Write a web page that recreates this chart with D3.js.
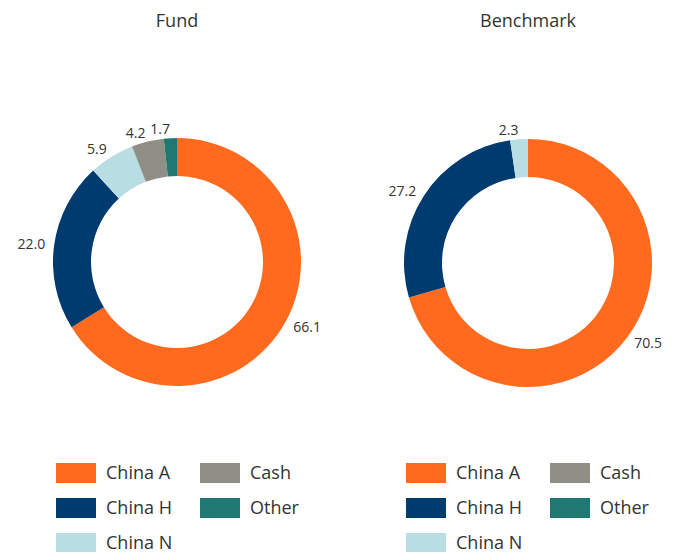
<!DOCTYPE html>
<html><head><meta charset="utf-8">
<script src="https://cdn.jsdelivr.net/npm/d3@7"></script>
<style>body{margin:0;background:#fff}svg{display:block}text{font-family:"Open Sans",sans-serif;fill:#333}</style>
</head><body>
<svg id="c" width="682" height="552"></svg>
<script>
const categories = ["China A","China H","China N","Cash","Other"];
const fundValues = [66.1,22.0,5.9,4.2,1.7];
const benchmarkValues = [70.5,27.2,2.3,0,0];
const titles = ["Fund","Benchmark"];
const colors = ["#FF6A1E","#003B6F","#B8DDE2","#8F8F86","#1F7872"];

const svg = d3.select("#c");
const color = d3.scaleOrdinal().domain(categories).range(colors);
const panels = [
  {title:titles[0], values:fundValues, cx:177, cy:262, lx:56},
  {title:titles[1], values:benchmarkValues, cx:528, cy:263, lx:406}
];
const pie = d3.pie().sort(null).value(d=>d.v);
const R = 124, r = 86, L = 133;
const arc = d3.arc().innerRadius(r).outerRadius(R);

panels.forEach(p=>{
  const g = svg.append("g");
  g.append("text").attr("x",p.cx).attr("y",27).attr("text-anchor","middle")
    .style("font-size","18px").text(p.title);
  const data = categories.map((c,i)=>({c, v:p.values[i]}));
  const arcs = pie(data);
  const dg = g.append("g").attr("transform",`translate(${p.cx},${p.cy})`);
  dg.selectAll("path").data(arcs.filter(a=>a.data.v>0)).join("path")
    .attr("d",arc).attr("fill",d=>color(d.data.c));
  dg.selectAll("text.lbl").data(arcs.filter(a=>a.data.v>0)).join("text")
    .attr("class","lbl")
    .each(function(d){
      const a=(d.startAngle+d.endAngle)/2;
      const x=L*Math.sin(a), y=-L*Math.cos(a);
      d3.select(this).attr("x",x).attr("y",y)
        .attr("text-anchor", Math.sin(a)<0?"end":"start")
        .attr("dy","0.35em");
    })
    .style("font-size","14px")
    .text(d=>d3.format(".1f")(d.data.v));
  // legend
  const lg = g.append("g");
  categories.forEach((c,i)=>{
    const col = i<3?0:1, row = i<3?i:i-3;
    const x = p.lx + col*144, y = 463 + row*35;
    lg.append("rect").attr("x",x).attr("y",y).attr("width",40).attr("height",20).attr("fill",color(c));
    lg.append("text").attr("x",x+50).attr("y",y+10).attr("dy","0.35em")
      .style("font-size","18px").text(c);
  });
});
</script>
</body></html>
